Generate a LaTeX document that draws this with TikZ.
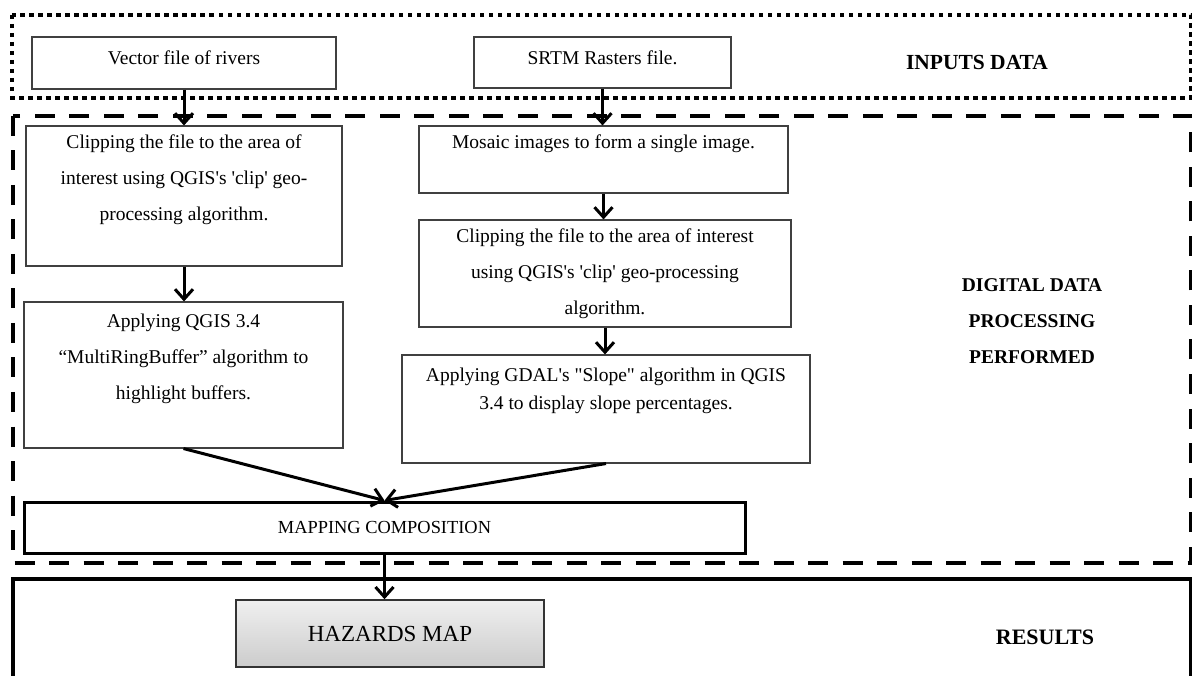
\documentclass[tikz,border=0pt]{standalone}
\usepackage{fontspec}
\setmainfont{Liberation Serif}[Ligatures=TeXOff]
\usetikzlibrary{arrows.meta}

\tikzset{
  inbox/.style={draw=black!75, line width=1.1pt, inner sep=2pt, text depth=10pt,
    font=\fontsize{19.5}{36}\selectfont},
  procbox/.style={draw=black!75, line width=1.1pt, inner sep=2pt, align=center,
    font=\fontsize{19.5}{36}\selectfont},
  flow/.style={line width=3pt, -{Straight Barb[length=10pt,width=18pt]}},
  sectlabel/.style={align=center, font=\fontsize{21.5}{36}\selectfont\bfseries}
}

\begin{document}
\begin{tikzpicture}[x=1pt,y=-1pt]
\useasboundingbox (0,0) rectangle (1192,676);
% the three stages
\draw[line width=4pt, dash pattern=on 4.5pt off 4.5pt] (12,15) rectangle (1191,98);
\draw[line width=4.5pt, dash pattern=on 20pt off 14.5pt] (13,116) rectangle (1191,563);
\draw[line width=4.5pt] (13,690) -- (13,579) -- (1191,579) -- (1191,690);
\node[sectlabel] (inlab) at (977,62) {INPUTS DATA};
\node[sectlabel, font=\fontsize{19.5}{36}\selectfont\bfseries] (proclab) at (1032,321) {DIGITAL DATA\\PROCESSING\\PERFORMED};
\node[sectlabel, font=\fontsize{22}{36}\selectfont\bfseries] (reslab) at (1045,637) {RESULTS};
% inputs
\node[inbox, minimum width=304pt, minimum height=52pt] (vec) at (184,63) {Vector file of rivers};
\node[inbox, minimum width=257pt, minimum height=51pt] (srtm) at (602.5,62.5) {SRTM Rasters file.};
% rivers branch
\node[procbox, minimum width=316pt, minimum height=140pt] (clipL) at (184,196)
  {Clipping the file to the area of\\interest using QGIS's 'clip' geo-\\processing algorithm.\\\mbox{}};
\node[procbox, minimum width=319pt, minimum height=146pt] (mrb) at (183.5,375)
  {Applying QGIS 3.4\\“MultiRingBuffer” algorithm to\\highlight buffers.\\\mbox{}};
% raster branch
\node[procbox, minimum width=369pt, minimum height=67pt] (mosaic) at (603.5,159.5)
  {Mosaic images to form a single image.\\\mbox{}};
\node[procbox, minimum width=372pt, minimum height=107pt] (clipR) at (605,273.5)
  {Clipping the file to the area of interest\\using QGIS's 'clip' geo-processing\\algorithm.};
\node[procbox, minimum width=408pt, minimum height=108pt] (gdal) at (606,409)
  {Applying GDAL's "Slope" algorithm in QGIS\\[-8pt]3.4 to display slope percentages.\\[4pt]\mbox{}};
% outputs
\node[draw, line width=3pt, minimum width=721pt, minimum height=51pt,
  font=\fontsize{18.4}{22}\selectfont] (mapping) at (384.5,527.5) {MAPPING COMPOSITION};
\node[draw=black!80, line width=1.5pt, top color=gray!12, bottom color=gray!40,
  minimum width=308pt, minimum height=67pt, font=\fontsize{23}{28}\selectfont] (hazards) at (390,633.5) {HAZARDS MAP};
% connectors
\draw[flow] (vec.south) -- (vec.south |- clipL.north);
\draw[flow] (srtm.south) -- (srtm.south |- mosaic.north);
\draw[flow] (clipL.south) -- (clipL.south |- mrb.north);
\draw[flow] (mosaic.south) -- (mosaic.south |- clipR.north);
\draw[flow] (clipR.south) -- (clipR.south |- gdal.north);
\draw[flow] (mrb.south) -- (mapping.north);
\draw[flow] (gdal.south) -- (mapping.north);
\draw[flow] (mapping.south) -- (mapping.south |- hazards.north);
\end{tikzpicture}
\end{document}
